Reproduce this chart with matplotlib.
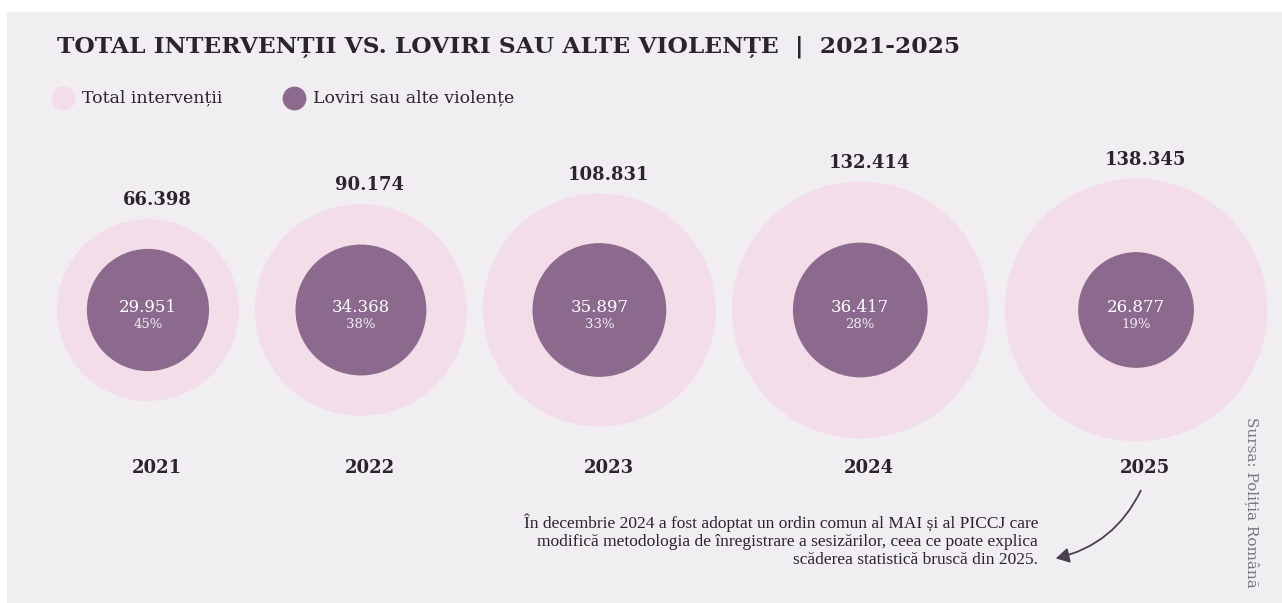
import matplotlib.pyplot as plt
import numpy as np
from matplotlib.patches import Circle, Rectangle, FancyArrowPatch

years = ["2021", "2022", "2023", "2024", "2025"]
total = [66398, 90174, 108831, 132414, 138345]
loviri = [29951, 34368, 35897, 36417, 26877]
total_labels = ["66.398", "90.174", "108.831", "132.414", "138.345"]
loviri_labels = ["29.951", "34.368", "35.897", "36.417", "26.877"]
pct_labels = ["45%", "38%", "33%", "28%", "19%"]

BG = "#f0eef1"
PINK = "#f3dde8"
PURPLE = "#8b6a8e"
DARK = "#2b2330"
FONT = "DejaVu Serif"

W, H = 1282, 603
fig = plt.figure(figsize=(W / 100, H / 100), dpi=100)
fig.patch.set_facecolor("white")
ax = fig.add_axes([0, 0, 1, 1])
ax.set_xlim(0, W)
ax.set_ylim(H, 0)
ax.set_aspect("equal")
ax.axis("off")

ax.add_patch(Rectangle((7, 12), W, H, facecolor=BG, edgecolor="none", zorder=0))

# radius proportional to sqrt(value), circles packed left to right
k = 131.3 / np.sqrt(max(total))
r_out = k * np.sqrt(np.array(total))
r_in = k * np.sqrt(np.array(loviri))
gap = 16
cy = 310
x = 57
centers = []
for r in r_out:
    centers.append(x + r)
    x += 2 * r + gap

for i in range(len(years)):
    cx = centers[i]
    ax.add_patch(Circle((cx, cy), r_out[i], facecolor=PINK, edgecolor="none", zorder=1))
    ax.add_patch(Circle((cx, cy), r_in[i], facecolor=PURPLE, edgecolor="none", zorder=2))
    ax.text(cx + 9, cy - r_out[i] - 19, total_labels[i], ha="center", va="center",
            fontsize=13, fontweight="bold", color=DARK, family=FONT, zorder=3)
    ax.text(cx, cy - 3, loviri_labels[i], ha="center", va="center",
            fontsize=12, color="white", family=FONT, zorder=3)
    ax.text(cx, cy + 14, pct_labels[i], ha="center", va="center",
            fontsize=9.5, color="#f3ecf3", family=FONT, zorder=3)
    ax.text(cx + 9, 468, years[i], ha="center", va="center",
            fontsize=13, fontweight="bold", color=DARK, family=FONT, zorder=3)

ax.text(57, 47, "TOTAL INTERVENȚII VS. LOVIRI SAU ALTE VIOLENȚE  |  2021-2025",
        ha="left", va="center", fontsize=16.8, fontweight="bold", color=DARK, family=FONT)

# legend
ax.scatter([63], [98], s=260, color=PINK, zorder=3)
ax.text(82, 98, "Total intervenții", ha="left", va="center", fontsize=12.5,
        color=DARK, family=FONT)
ax.scatter([294], [98], s=260, color=PURPLE, zorder=3)
ax.text(313, 98, "Loviri sau alte violențe", ha="left", va="center", fontsize=12.5,
        color=DARK, family=FONT)

note = ("În decembrie 2024 a fost adoptat un ordin comun al MAI și al PICCJ care\n"
        "modifică metodologia de înregistrare a sesizărilor, ceea ce poate explica\n"
        "scăderea statistică bruscă din 2025.")
ax.text(1038, 541, note, ha="right", va="center", fontsize=12.5, color=DARK,
        family="Liberation Serif", linespacing=1.17)

arrow = FancyArrowPatch((1142, 488), (1053, 559), connectionstyle="arc3,rad=-0.25",
                        arrowstyle="-|>,head_length=8,head_width=4.5",
                        color="#4a4050", lw=1.3, zorder=3)
ax.add_patch(arrow)

ax.text(1252, 502, "Sursa: Poliția Română", ha="center", va="center", rotation=-90,
        fontsize=11, color="#7a7680", family=FONT)

fig.savefig("out.png", dpi=100, facecolor="white")
